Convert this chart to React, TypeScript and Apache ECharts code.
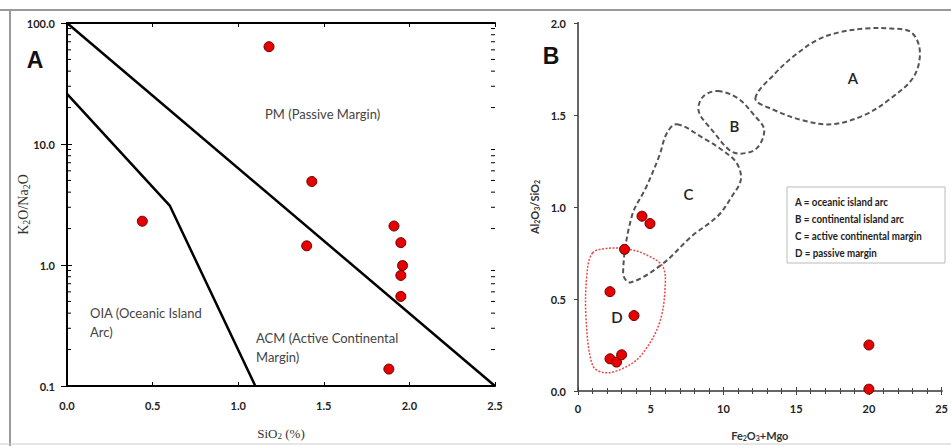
import React, { useEffect, useRef } from "react";
import * as echarts from "echarts";

// ---------- Panel A data ----------
const panelASiO2 = [1.18, 0.44, 1.43, 1.91, 1.4, 1.95, 1.96, 1.95, 1.95, 1.88];
const panelARatio = [63.7, 2.3, 4.9, 2.1, 1.44, 1.53, 0.99, 0.82, 0.55, 0.138];
const pmBoundary = [
  [0, 100],
  [2.5, 0.1],
];
const oiaBoundary = [
  [0, 26],
  [0.6, 3.1],
  [1.1, 0.1],
];
const logMinorTicks = [0.2, 0.3, 0.4, 0.5, 0.6, 0.7, 0.8, 0.9, 2, 3, 4, 5, 6, 7, 8, 9, 20, 30, 40, 50, 60, 70, 80, 90];

// ---------- Panel B data ----------
const feMgo = [4.4, 4.95, 3.2, 2.2, 3.85, 2.2, 2.65, 3.0, 20.0, 20.0];
const alSi = [0.95, 0.91, 0.77, 0.54, 0.41, 0.175, 0.157, 0.197, 0.25, 0.01];

const fieldA = [
  [12.2, 1.59], [13.6, 1.73], [15.0, 1.83], [16.5, 1.91], [18.0, 1.95], [19.8, 1.97],
  [21.5, 1.97], [22.9, 1.95], [23.5, 1.85], [23.1, 1.71], [21.5, 1.59], [19.7, 1.5],
  [17.5, 1.45], [15.5, 1.47], [13.4, 1.53],
];
const fieldB = [
  [9.6, 1.63], [11.0, 1.59], [12.1, 1.5], [12.8, 1.42], [12.3, 1.32], [11.2, 1.29],
  [10.4, 1.31], [9.3, 1.41], [8.3, 1.52], [8.6, 1.6],
];
const fieldC = [
  [6.8, 1.45], [8.7, 1.37], [9.9, 1.31], [10.9, 1.24], [11.2, 1.15], [10.6, 1.06],
  [9.6, 0.95], [7.8, 0.84], [5.8, 0.69], [3.6, 0.59], [3.1, 0.64], [3.7, 0.95],
  [4.7, 1.11], [5.6, 1.28], [6.1, 1.4],
];
const fieldD = [
  [1.0, 0.75], [2.0, 0.775], [3.5, 0.77], [4.7, 0.74], [5.8, 0.68], [6.0, 0.58],
  [5.6, 0.37], [4.3, 0.19], [3.0, 0.12], [1.8, 0.1], [1.0, 0.14], [0.55, 0.4], [0.62, 0.64],
];
const fieldNames = ["A", "B", "C", "D"];
const fieldLabelPos = [
  [18.9, 1.7],
  [10.75, 1.44],
  [7.6, 1.07],
  [2.67, 0.4],
];
const legendLines = [
  "A = oceanic island arc",
  "B = continental island arc",
  "C = active continental margin",
  "D = passive margin",
];

const tickFont = { fontFamily: "Lato", fontWeight: "bold" as const, fontSize: 11, color: "#222" };

function fieldSeries(points: number[][], idx: number, red: boolean) {
  return {
    type: "custom",
    xAxisIndex: 2,
    yAxisIndex: 2,
    silent: true,
    z: 3,
    data: [fieldLabelPos[idx]],
    renderItem: (params: any, api: any) => {
      const pts = points.map((p) => api.coord(p));
      const lp = api.coord([api.value(0), api.value(1)]);
      return {
        type: "group",
        children: [
          {
            type: "polygon",
            shape: { points: pts, smooth: 0.35 },
            style: red
              ? { fill: "none", stroke: "#e84a4a", lineWidth: 1.5, lineDash: [2, 1.5] }
              : { fill: "none", stroke: "#555", lineWidth: 2, lineDash: [5, 3] },
          },
          {
            type: "text",
            x: lp[0],
            y: lp[1],
            style: {
              text: fieldNames[idx],
              align: "center",
              verticalAlign: "middle",
              fontFamily: "Lato",
              fontWeight: 600,
              fontSize: 15,
              fill: "#222",
            },
          },
        ],
      };
    },
  };
}

export default function App() {
  const ref = useRef<HTMLDivElement>(null);
  useEffect(() => {
    if (!ref.current) return;
    const chart = echarts.init(ref.current, null, { renderer: "svg" });
    const subRich = (size: number, family: string, weight: any = "normal") => ({
      a: { fontFamily: family, fontSize: size, color: "#333", fontWeight: weight },
      s: { fontFamily: family, fontSize: size - 4, color: "#333", padding: [5, 0, 0, 0], fontWeight: weight },
    });
    const option: any = {
      animation: false,
      backgroundColor: "#fff",
      grid: [
        { left: 67, top: 23, width: 428, height: 363 },
        { left: 578, top: 23, width: 371, height: 374 },
      ],
      xAxis: [
        {
          gridIndex: 0, type: "value", min: 0, max: 2.5, interval: 0.5, position: "bottom",
          axisLine: { lineStyle: { color: "#000", width: 2 } },
          axisTick: { inside: true, length: 4, lineStyle: { color: "#000" } },
          axisLabel: { ...tickFont, margin: 14, formatter: (v: number) => v.toFixed(1) },
          splitLine: { show: false },
          name: "{a|SiO}{s|2}{a| (%)}", nameLocation: "middle", nameGap: 40,
          nameTextStyle: { rich: subRich(13, "Liberation Serif") },
        },
        {
          gridIndex: 0, type: "value", min: 0, max: 2.5, interval: 0.5, position: "top",
          axisLine: { lineStyle: { color: "#000", width: 2 } },
          axisTick: { inside: true, length: 4, lineStyle: { color: "#000" } },
          axisLabel: { show: false }, splitLine: { show: false },
        },
        {
          gridIndex: 1, type: "value", min: 0, max: 25, interval: 5, position: "bottom",
          axisLine: { lineStyle: { color: "#666", width: 2 } },
          axisTick: { inside: true, length: 4, lineStyle: { color: "#444" } },
          minorTick: { show: true, splitNumber: 5, length: 3, lineStyle: { color: "#444" } },
          axisLabel: { ...tickFont, margin: 12 },
          splitLine: { show: false },
          name: "{a|Fe}{s|2}{a|O}{s|3}{a|+Mgo}", nameLocation: "middle", nameGap: 38,
          nameTextStyle: { rich: subRich(11, "Lato", "bold") },
        },
        {
          gridIndex: 1, type: "value", min: 0, max: 25, interval: 5, position: "top",
          axisLine: { lineStyle: { color: "#666", width: 2 } },
          axisTick: { inside: true, length: 4, lineStyle: { color: "#444" } },
          minorTick: { show: true, splitNumber: 5, length: 3, lineStyle: { color: "#444" } },
          axisLabel: { show: false }, splitLine: { show: false },
        },
      ],
      yAxis: [
        {
          gridIndex: 0, type: "log", logBase: 10, min: 0.1, max: 100, position: "left",
          axisLine: { lineStyle: { color: "#000", width: 2 } },
          axisTick: { inside: true, length: 5, lineStyle: { color: "#000" } },
          axisLabel: { ...tickFont, margin: 12, formatter: (v: number) => v.toFixed(1) },
          splitLine: { show: false },
          name: "{a|K}{s|2}{a|O/Na}{s|2}{a|O}", nameLocation: "middle", nameGap: 36,
          nameMoveOverlap: false,
          nameTextStyle: { rich: subRich(14, "Liberation Serif") },
        },
        {
          gridIndex: 0, type: "log", logBase: 10, min: 0.1, max: 100, position: "right",
          axisLine: { lineStyle: { color: "#000", width: 2 } },
          axisTick: { inside: true, length: 6, lineStyle: { color: "#000" } },
          axisLabel: { show: false }, splitLine: { show: false },
        },
        {
          gridIndex: 1, type: "value", min: 0, max: 2, interval: 0.5, position: "left",
          axisLine: { lineStyle: { color: "#666", width: 2 } },
          axisTick: { inside: false, length: 3, lineStyle: { color: "#444" } },
          axisLabel: { ...tickFont, margin: 12, formatter: (v: number) => v.toFixed(1) },
          splitLine: { show: false },
          name: "{a|Al}{s|2}{a|O}{s|3}{a|/SiO}{s|2}", nameLocation: "middle", nameGap: 38,
          nameTextStyle: { rich: subRich(11, "Lato", "bold") },
        },
        {
          gridIndex: 1, type: "value", min: 0, max: 2, interval: 0.5, position: "right",
          axisLine: { lineStyle: { color: "#666", width: 2 } },
          axisTick: { inside: true, length: 4, lineStyle: { color: "#444" } },
          axisLabel: { show: false }, splitLine: { show: false },
        },
      ],
      series: [
        {
          type: "line", xAxisIndex: 0, yAxisIndex: 0, data: pmBoundary, symbol: "none",
          lineStyle: { color: "#000", width: 2.5 }, z: 3, silent: true,
        },
        {
          type: "line", xAxisIndex: 0, yAxisIndex: 0, data: oiaBoundary, symbol: "none",
          lineStyle: { color: "#000", width: 2.5 }, z: 3, silent: true,
        },
        {
          type: "custom", xAxisIndex: 0, yAxisIndex: 0, silent: true, z: 4,
          data: logMinorTicks.map((v) => [1, v]),
          renderItem: (params: any, api: any) => {
            const cs = params.coordSys;
            const y = api.coord([1, api.value(1)])[1];
            return {
              type: "group",
              children: [
                { type: "line", shape: { x1: cs.x, y1: y, x2: cs.x + 4, y2: y }, style: { stroke: "#000", lineWidth: 1 } },
                { type: "line", shape: { x1: cs.x + cs.width - 4, y1: y, x2: cs.x + cs.width, y2: y }, style: { stroke: "#000", lineWidth: 1 } },
              ],
            };
          },
        },
        {
          type: "scatter", xAxisIndex: 0, yAxisIndex: 0, z: 5,
          data: panelASiO2.map((x, i) => [x, panelARatio[i]]),
          symbolSize: 10,
          itemStyle: { color: "#e60000", borderColor: "#6a0000", borderWidth: 1, opacity: 1 },
        },
        fieldSeries(fieldA, 0, false),
        fieldSeries(fieldB, 1, false),
        fieldSeries(fieldC, 2, false),
        fieldSeries(fieldD, 3, true),
        {
          type: "scatter", xAxisIndex: 2, yAxisIndex: 2, z: 5,
          data: feMgo.map((x, i) => [x, alSi[i]]),
          symbolSize: 10,
          itemStyle: { color: "#e60000", borderColor: "#6a0000", borderWidth: 1, opacity: 1 },
        },
      ],
      graphic: [
        { type: "line", shape: { x1: 0, y1: 10, x2: 951, y2: 10 }, style: { stroke: "#999", lineWidth: 2 } },
        { type: "line", shape: { x1: 10, y1: 10, x2: 10, y2: 446 }, style: { stroke: "#999", lineWidth: 2 } },
        { type: "line", shape: { x1: 0, y1: 444, x2: 951, y2: 444 }, style: { stroke: "#ccc", lineWidth: 1 } },
        {
          type: "text", x: 35, y: 60,
          style: { text: "A", align: "center", verticalAlign: "middle", fontFamily: "Liberation Sans", fontWeight: "bold", fontSize: 23, fill: "#111" },
        },
        {
          type: "text", x: 551, y: 56,
          style: { text: "B", align: "center", verticalAlign: "middle", fontFamily: "Liberation Sans", fontWeight: "bold", fontSize: 23, fill: "#111" },
        },
        {
          type: "text", x: 265, y: 114,
          style: { text: "PM (Passive Margin)", verticalAlign: "middle", fontFamily: "Lato", fontSize: 13, fill: "#444" },
        },
        {
          type: "text", x: 90, y: 322,
          style: { text: "OIA (Oceanic Island\nArc)", verticalAlign: "middle", lineHeight: 19, fontFamily: "Lato", fontSize: 13, fill: "#444" },
        },
        {
          type: "text", x: 256, y: 347,
          style: { text: "ACM (Active Continental\nMargin)", verticalAlign: "middle", lineHeight: 19, fontFamily: "Lato", fontSize: 13, fill: "#444" },
        },
        {
          type: "rect", shape: { x: 787, y: 187, width: 158, height: 76 },
          style: { fill: "#fff", stroke: "#bbb", lineWidth: 1 }, z: 10,
        },
        ...legendLines.map((t, i) => ({
          type: "text", x: 795, y: 201 + i * 17, z: 11, scaleX: 0.85,
          style: {
            text: t, verticalAlign: "middle", fontFamily: "Lato",
            fontWeight: "bold", fontSize: 11.5, fill: "#222",
          },
        })),
      ],
    };
    chart.setOption(option);
    return () => chart.dispose();
  }, []);
  return (
    <div
      ref={ref}
      style={{ position: "fixed", left: 0, top: 0, width: 951, height: 446, background: "#fff" }}
    />
  );
}
